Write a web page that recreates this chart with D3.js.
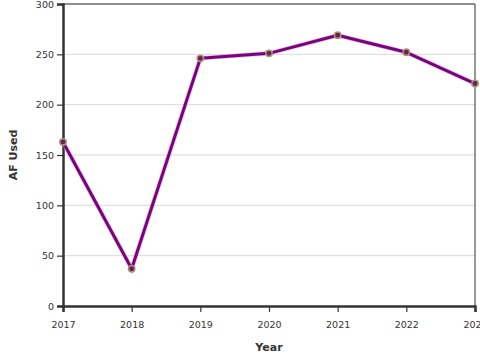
<!DOCTYPE html>
<html><head><meta charset="utf-8">
<script src="https://cdn.jsdelivr.net/npm/d3@7"></script>
<style>body{margin:0;background:#fff;} text{font-family:"DejaVu Sans",sans-serif;}</style>
</head><body><svg id="c" width="480" height="360"></svg>
<script>
const years = [2017, 2018, 2019, 2020, 2021, 2022, 2023];
const afUsed = [163, 37, 246, 251, 269, 252, 221];
const yTicks = [0, 50, 100, 150, 200, 250, 300];

const svg = d3.select("#c");
const m = {l: 63, r: 5, t: 4, b: 54};
const W = 480, H = 360;
const x = d3.scaleLinear().domain([2017, 2023]).range([m.l, W - m.r]);
const y = d3.scaleLinear().domain([0, 300]).range([H - m.b, m.t]);

// gridlines
svg.append("g").selectAll("line").data(yTicks.slice(1)).join("line")
  .attr("x1", m.l).attr("x2", W - m.r)
  .attr("y1", d => y(d)).attr("y2", d => y(d))
  .attr("stroke", "#d9d9d9").attr("stroke-width", 1);

// top & right border
svg.append("line").attr("x1", m.l).attr("x2", W - m.r).attr("y1", m.t).attr("y2", m.t)
  .attr("stroke", "#333").attr("stroke-width", 1);
svg.append("line").attr("x1", W - m.r).attr("x2", W - m.r).attr("y1", m.t).attr("y2", H - m.b)
  .attr("stroke", "#333").attr("stroke-width", 1);

const xAxis = svg.append("g").attr("transform", `translate(0,${H - m.b})`)
  .call(d3.axisBottom(x).tickValues(years).tickFormat(d3.format("d")).tickSizeOuter(0).tickSize(6));
const yAxis = svg.append("g").attr("transform", `translate(${m.l},0)`)
  .call(d3.axisLeft(y).tickValues(yTicks).tickSizeOuter(0).tickSize(6));
[xAxis, yAxis].forEach(a => {
  a.select(".domain").attr("stroke", "#333").attr("stroke-width", 2.5);
  a.selectAll(".tick line").attr("stroke", "#333").attr("stroke-width", 1.2);
  a.selectAll(".tick text").attr("fill", "#333").attr("font-size", 9.5)
    .attr("font-family", "DejaVu Sans");
});
xAxis.selectAll(".tick text").attr("dy", "1.4em");

svg.append("text").attr("x", 269).attr("y", 351).attr("text-anchor", "middle")
  .attr("font-size", 11).attr("font-weight", "bold").attr("fill", "#333").text("Year");
svg.append("text").attr("transform", `translate(17,155) rotate(-90)`).attr("text-anchor", "middle")
  .attr("font-size", 11).attr("font-weight", "bold").attr("fill", "#333").text("AF Used");

const data = years.map((d, i) => ({year: d, v: afUsed[i]}));
const line = d3.line().x(d => x(d.year)).y(d => y(d.v));
svg.append("path").datum(data).attr("d", line).attr("fill", "none")
  .attr("stroke", "#c9a0c9").attr("stroke-width", 4.5).attr("stroke-opacity", 0.6);
svg.append("path").datum(data).attr("d", line).attr("fill", "none")
  .attr("stroke", "#7f007f").attr("stroke-width", 3).attr("stroke-linejoin", "round");
svg.append("g").selectAll("circle").data(data).join("circle")
  .attr("cx", d => x(d.year)).attr("cy", d => y(d.v)).attr("r", 3.2)
  .attr("fill", "#6a2055").attr("stroke", "#a8957a").attr("stroke-width", 1.5);
</script></body></html>
